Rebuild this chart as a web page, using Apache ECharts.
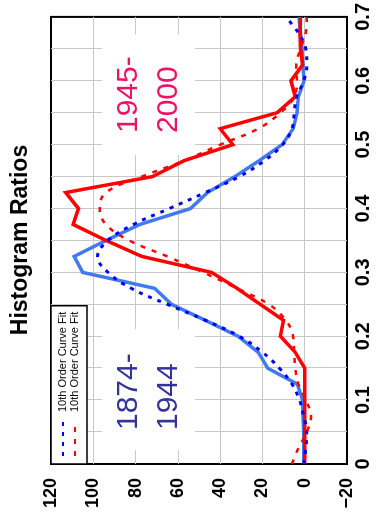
<!DOCTYPE html>
<html>
<head>
<meta charset="utf-8">
<script src="https://cdn.jsdelivr.net/npm/echarts@6/dist/echarts.min.js"></script>
<style>
  html, body { margin: 0; padding: 0; overflow: hidden; background: #fff; width: 376px; height: 520px; }
  /* the chart is laid out landscape and turned a quarter turn counter-clockwise */
  #chart { position: absolute; left: 0; top: 0; width: 520px; height: 376px;
           transform-origin: 0 0; transform: translate(0, 520px) rotate(-90deg); }
</style>
</head>
<body>
<div id="chart"></div>
<script>
// histogram bin positions (ratio)
const bins = [0, 0.025, 0.05, 0.075, 0.1, 0.125, 0.15, 0.175, 0.2, 0.225, 0.25, 0.275,
              0.3, 0.325, 0.35, 0.375, 0.4, 0.425, 0.45, 0.475, 0.5, 0.525, 0.55, 0.575,
              0.6, 0.625, 0.65, 0.675, 0.7];

// 1874-1944 histogram
const histEarly = [0.5, 0.5, 0.5, 0.8, 1, 3.5, 17.5, 22, 31.5, 47, 63, 71,
                   105, 109, 94, 78, 54, 46, 33, 21.5, 10.7, 5.5, 3.6, 3,
                   0.3, 0.8, 1.3, 2, 2.7];

// 1945-2000 histogram
const histLate = [0, 0, 0, 0, 0, 0, 0, 4.5, 11.5, 10, 21, 32,
                  44, 77, 94, 109.5, 107, 113, 72, 57, 34, 40, 13, 4.5,
                  6.5, 1, 2, 2.2, 2];

// 10th order curve fits
const fitEarly = [0.5, -0.5, -1, 0.5, 2.5, 6, 12, 20, 31, 47, 65, 82,
                  93, 98, 93, 81, 64, 47, 31, 19, 10.5, 6, 5, 3.8,
                  0.5, -1, -0.5, 3, 9];
const fitLate = [6, 3, -1, -3, -0.5, 3, 4.5, 5, 5.5, 9, 17, 32,
                 48, 65, 83, 94, 97, 94, 77, 57, 40, 22, 11.5, 5,
                 3.7, 4, 2, -0.5, -1];

// axis tick labels
const xTickLabels = ['0', '0.1', '0.2', '0.3', '0.4', '0.5', '0.6', '0.7'];
const yTickLabels = ['\u221220', '0', '20', '40', '60', '80', '100', '120'];

const titleText = 'Histogram Ratios';
const fitLabel = '10th Order Curve Fit';
const earlyLabel = '1874-\n1944';
const lateLabel = '1945-\n2000';

const FONT = '"Liberation Sans", Arial, sans-serif';
const pairs = ys => bins.map((x, i) => [x, ys[i]]);

const chart = echarts.init(document.getElementById('chart'), null, { renderer: 'canvas' });

chart.setOption({
  animation: false,
  backgroundColor: '#fff',
  grid: {
    left: 56, right: 15, top: 51, bottom: 29,
    show: true, borderColor: '#000', borderWidth: 2, backgroundColor: 'transparent'
  },
  xAxis: {
    type: 'value', min: 0, max: 0.7, interval: 0.1,
    axisLine: { show: false }, axisTick: { show: false },
    axisLabel: {
      fontFamily: FONT, fontWeight: 'bold', fontSize: 20, color: '#000', margin: 6,
      formatter: v => xTickLabels[Math.round(v * 10)]
    },
    splitLine: { show: true, showMinLine: false, showMaxLine: false, lineStyle: { color: '#c8c8c8', width: 1 } },
    minorTick: { show: false, splitNumber: 2 },
    minorSplitLine: { show: true, lineStyle: { color: '#c8c8c8', width: 1 } }
  },
  yAxis: {
    type: 'value', min: -20, max: 120, interval: 20,
    axisLine: { show: false }, axisTick: { show: false },
    axisLabel: {
      fontFamily: FONT, fontWeight: 'bold', fontSize: 18, color: '#000', margin: 14,
      formatter: v => yTickLabels[Math.round((v + 20) / 20)]
    },
    splitLine: { show: true, showMinLine: false, showMaxLine: false, lineStyle: { color: '#c8c8c8', width: 1 } }
  },
  legend: {
    data: ['fit-1874', 'fit-1945'],
    orient: 'vertical', left: 56, top: 51,
    padding: [6, 6, 6, 7], itemGap: 0, itemWidth: 34, itemHeight: 12,
    backgroundColor: '#fff', borderColor: '#000', borderWidth: 1.5, borderRadius: 0,
    itemStyle: { opacity: 0, borderWidth: 0 },
    formatter: () => fitLabel,
    textStyle: { fontFamily: FONT, fontSize: 11, color: '#000', lineHeight: 12, padding: [0, 0, 0, 5] }
  },
  graphic: [
    {
      type: 'text', x: 280, y: 9, z: 5,
      style: { text: titleText, font: 'bold 23px ' + FONT, fill: '#000', align: 'center', verticalAlign: 'top' }
    },
    {
      type: 'text', x: 70, y: 102, z: 1,
      style: {
        text: earlyLabel, font: '30px ' + FONT, fill: '#333399', lineHeight: 40,
        backgroundColor: '#fff', padding: [7, 24, 6, 20], align: 'left', verticalAlign: 'top'
      }
    },
    {
      type: 'text', x: 365, y: 102, z: 1,
      style: {
        text: lateLabel, font: '30px ' + FONT, fill: '#ee1166', lineHeight: 40,
        backgroundColor: '#fff', padding: [7, 22, 6, 22], align: 'left', verticalAlign: 'top'
      }
    }
  ],
  series: [
    {
      name: 'hist-1874', type: 'line', data: pairs(histEarly),
      symbol: 'none', showSymbol: false, z: 2,
      lineStyle: { color: '#4179ee', width: 3.5, join: 'miter' }, itemStyle: { color: '#4179ee' }
    },
    {
      name: 'hist-1945', type: 'line', data: pairs(histLate),
      symbol: 'none', showSymbol: false, z: 3,
      lineStyle: { color: '#ff0000', width: 3.5, join: 'miter' }, itemStyle: { color: '#ff0000' }
    },
    {
      name: 'fit-1874', type: 'line', data: pairs(fitEarly), smooth: 0.4,
      symbol: 'none', showSymbol: false, z: 4,
      lineStyle: { color: '#0000ff', width: 3, type: [4, 6] }, itemStyle: { color: '#0000ff' }
    },
    {
      name: 'fit-1945', type: 'line', data: pairs(fitLate), smooth: 0.4,
      symbol: 'none', showSymbol: false, z: 4,
      lineStyle: { color: '#ff0000', width: 2.5, type: [5, 7] }, itemStyle: { color: '#ff0000' }
    }
  ]
});
</script>
</body>
</html>
